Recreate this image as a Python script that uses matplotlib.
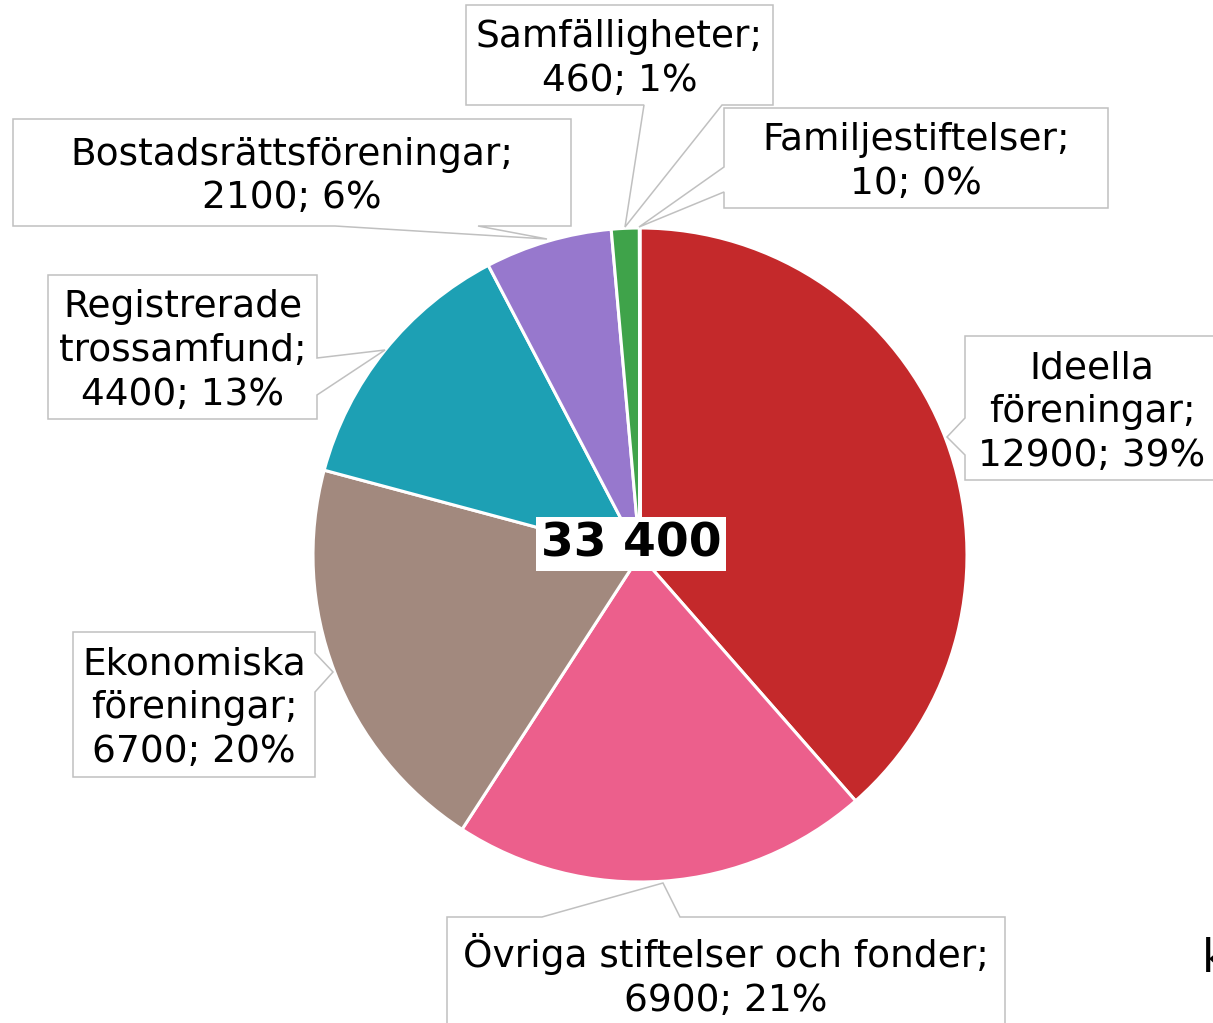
import matplotlib
matplotlib.use('Agg')
import matplotlib.pyplot as plt
from matplotlib.patches import Polygon

W, H = 1213, 1023

categories = ['Ideella\nföreningar', 'Övriga stiftelser och fonder', 'Ekonomiska\nföreningar',
              'Registrerade\ntrossamfund', 'Bostadsrättsföreningar', 'Samfälligheter',
              'Familjestiftelser']
values = [12900, 6900, 6700, 4400, 2100, 460, 10]
percents = [39, 21, 20, 13, 6, 1, 0]
colors = ['#C4292B', '#EC5F8C', '#A2897E', '#1DA0B4', '#9778CD', '#3FA34A', '#F0A030']
total_label = '33 400'

# callout boxes in pixel coords: (x0, y0, x1, y1), side with the pointer, pointer base, tip
callouts = [
    ((965, 336, 1230, 480), 'left', (418, 455), (947, 437)),
    ((447, 917, 1005, 1040), 'top', (542, 680), (663, 883)),
    ((73, 632, 315, 777), 'right', (653, 692), (333, 672)),
    ((48, 275, 317, 419), 'right', (358, 395), (385, 350)),
    ((13, 119, 571, 226), 'bottom', (335, 478), (547, 239)),
    ((466, 5, 773, 105), 'bottom', (644, 722), (625, 227)),
    ((724, 108, 1108, 208), 'left', (167, 192), (639, 227)),
]


def callout_path(box, side, base, tip):
    x0, y0, x1, y1 = box
    a, b = base
    if side == 'top':
        return [(x0, y0), (a, y0), tip, (b, y0), (x1, y0), (x1, y1), (x0, y1)]
    if side == 'right':
        return [(x0, y0), (x1, y0), (x1, a), tip, (x1, b), (x1, y1), (x0, y1)]
    if side == 'bottom':
        return [(x0, y0), (x1, y0), (x1, y1), (b, y1), tip, (a, y1), (x0, y1)]
    return [(x0, y0), (x1, y0), (x1, y1), (x0, y1), (x0, b), tip, (x0, a)]


fig = plt.figure(figsize=(W / 100, H / 100), dpi=100)
ax = fig.add_axes([0, 0, 1, 1])

# y axis is flipped below, so counterclock=True draws clockwise on screen
ax.pie(values, colors=colors, center=(640, 555), radius=327, startangle=-90,
       counterclock=True, wedgeprops=dict(edgecolor='white', linewidth=2.2))

for i, (box, side, base, tip) in enumerate(callouts):
    poly = Polygon(callout_path(box, side, base, tip), closed=True, facecolor='white',
                   edgecolor='#C0C0C0', linewidth=1.1, zorder=3)
    ax.add_patch(poly)
    x0, y0, x1, y1 = box
    txt = f'{categories[i]};\n{values[i]}; {percents[i]}%'
    cx = (x0 + min(x1, W)) / 2
    if i == 0:
        cx = 1092
    cy = (y0 + min(y1, H)) / 2 + 4
    if i == 1:
        cy = 976
    ax.text(cx, cy, txt, ha='center', va='center', fontsize=27, linespacing=1.27,
            color='black', zorder=4)

ax.text(631, 544, total_label, ha='center', va='center', fontsize=34, fontweight='bold',
        zorder=5, bbox=dict(facecolor='white', edgecolor='none', pad=3))

# partly visible letter at the right edge
ax.text(1202, 972, 'k', ha='left', va='baseline', fontsize=33, color='black')

ax.set_xlim(0, W)
ax.set_ylim(H, 0)
ax.set_aspect('auto')
ax.axis('off')

fig.savefig('out.png', dpi=100)
